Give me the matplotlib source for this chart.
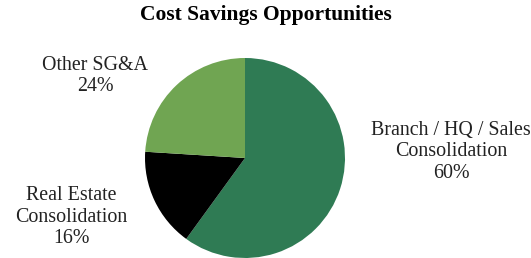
import matplotlib
matplotlib.use("Agg")
import matplotlib.pyplot as plt

categories = ["Branch / HQ / Sales\nConsolidation", "Real Estate\nConsolidation", "Other SG&A"]
values = [60, 16, 24]
colors = ["#2f7b54", "#000000", "#70a552"]

plt.rcParams['font.family'] = ['Liberation Serif', 'DejaVu Serif']

fig = plt.figure(figsize=(5.31, 2.58), dpi=100)
ax = fig.add_axes([0, 0, 1, 1])
ax.pie(values, colors=colors, startangle=90, counterclock=False, radius=1.0,
       wedgeprops=dict(linewidth=0))
ax.set_xlim(-2.45, 2.86)
ax.set_ylim(-1.00, 1.58)
ax.set_aspect('equal')
ax.axis('off')

label_pos = [(2.06, 0.06), (-1.74, -0.59), (-1.50, 0.82)]
for cat, v, (x, y) in zip(categories, values, label_pos):
    ax.text(x, y, f"{cat}\n{v}%", ha='center', va='center', fontsize=14.4,
            color='#222222', linespacing=1.2)

fig.text(0.501, 1 - 15 / 258, "Cost Savings Opportunities", ha='center', va='center',
         fontsize=15.5, fontweight='bold', color='#000000')

fig.savefig("out.png", dpi=100)
